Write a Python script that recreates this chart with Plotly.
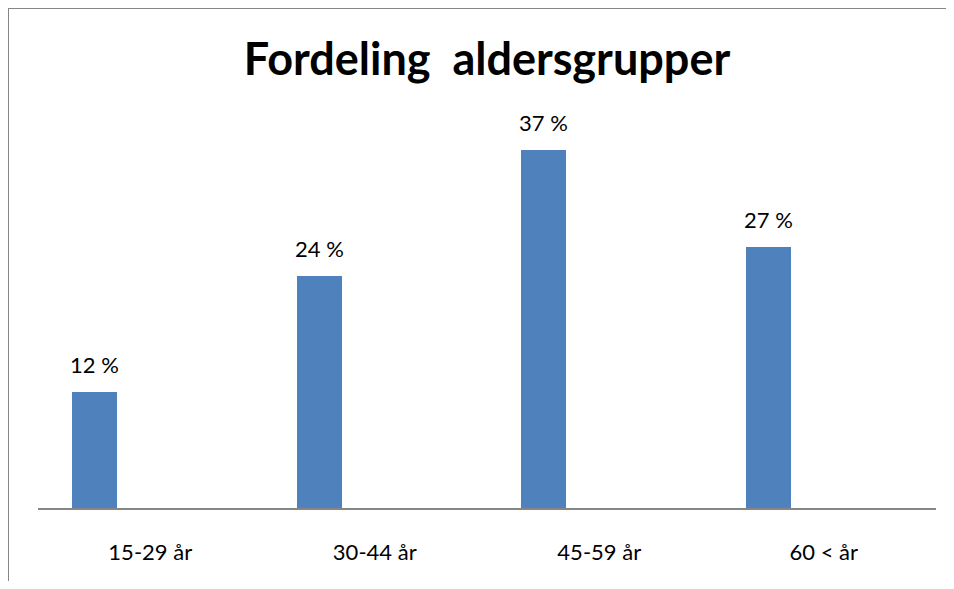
import plotly.graph_objects as go

categories = ["15-29 år", "30-44 år", "45-59 år", "60 < år"]
values = [12, 24, 37, 27]
value_labels = ["12 %", "24 %", "37 %", "27 %"]

BAR_COLOR = "#4F81BD"
GRID_GRAY = "#868686"
FONT = "Lato"

fig = go.Figure()

# bars sit in the left part of each category slot (like an Excel clustered chart)
fig.add_trace(go.Bar(
    x=categories,
    y=values,
    width=0.2,
    offset=-0.347,
    marker=dict(color=BAR_COLOR, line=dict(width=0)),
    hoverinfo="x+y",
    showlegend=False,
))

# value labels above each bar
for i, (v, lab) in enumerate(zip(values, value_labels)):
    fig.add_annotation(
        x=i - 0.247, y=v, xref="x", yref="y",
        text=lab, showarrow=False,
        yanchor="bottom", yshift=12,
        font=dict(family=FONT, size=22, color="#000000"),
    )

# chart frame: only top and left edges are visible, the rest is cropped
frame = dict(color=GRID_GRAY, width=2)
fig.add_shape(type="line", xref="paper", yref="paper",
              x0=-0.0334, x1=1.05, y0=1.292, y1=1.292, line=frame)
fig.add_shape(type="line", xref="paper", yref="paper",
              x0=-0.0334, x1=-0.0334, y0=-0.25, y1=1.292, line=frame)

# page body has an 8px margin on every side, keep the figure inside the window
fig.update_layout(
    width=938,
    height=573,
    margin=dict(l=30, r=10, t=113, b=73),
    paper_bgcolor="white",
    plot_bgcolor="white",
    title=dict(
        text="<b>Fordeling  aldersgrupper</b>",
        x=0.5, xref="paper", xanchor="center",
        y=1 - 51 / 573, yref="container", yanchor="middle",
        font=dict(family=FONT, size=45, color="#000000"),
    ),
    font=dict(family=FONT, size=22, color="#000000"),
    bargap=0,
)

fig.update_xaxes(
    type="category",
    range=[-0.5, 3.5],
    showline=True, linecolor=GRID_GRAY, linewidth=2,
    ticks="", showgrid=False, zeroline=False,
    ticklabelstandoff=24,
    tickfont=dict(family=FONT, size=22, color="#000000"),
)
fig.update_yaxes(
    range=[0, 40],
    visible=False,
    showgrid=False, zeroline=False,
)

fig.write_html("out.html")
